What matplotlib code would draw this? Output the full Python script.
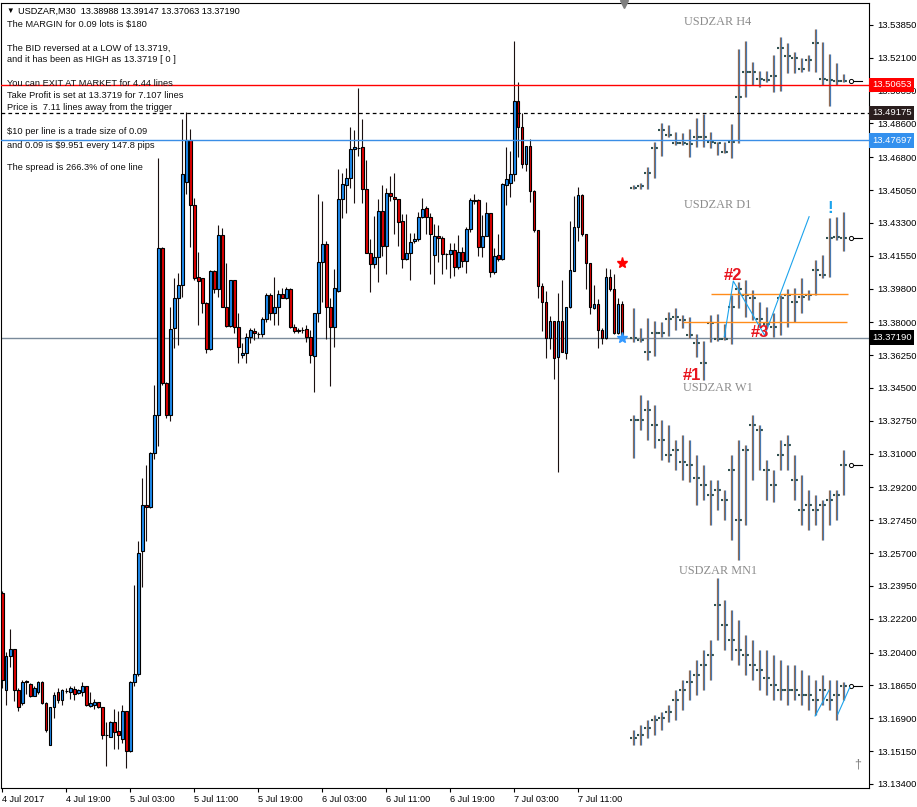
import numpy as np
import matplotlib.pyplot as plt
from matplotlib.patches import Rectangle
from matplotlib.transforms import blended_transform_factory

plt.rcParams['font.family'] = ['Liberation Sans', 'DejaVu Sans']

# USDZAR M30 candles
m30_open = [13.2355, 13.1839, 13.2019, 13.2057, 13.1839, 13.1772, 13.1886, 13.1873, 13.1810, 13.1828,
            13.1884, 13.1772, 13.1548, 13.1749, 13.1832, 13.1787, 13.1836, 13.1828, 13.1846, 13.1823,
            13.1832, 13.1861, 13.1756, 13.1760, 13.1776, 13.1749, 13.1600, 13.1592, 13.1671, 13.1622,
            13.1581, 13.1727, 13.1514, 13.1884, 13.1928, 13.2579, 13.2826, 13.2815, 13.3106, 13.3308,
            13.4194, 13.3474, 13.3306, 13.3768, 13.3928, 13.3999, 13.4549, 13.4772, 13.4425, 13.4039,
            13.4034, 13.3904, 13.3656, 13.4075, 13.3976, 13.4265, 13.3883, 13.3782, 13.4025, 13.3777,
            13.3625, 13.3638, 13.3720, 13.3753, 13.3736, 13.3736, 13.3816, 13.3945, 13.3851, 13.3880,
            13.3951, 13.3931, 13.3977, 13.3773, 13.3756, 13.3759, 13.3762, 13.3723, 13.3620, 13.3848,
            13.4119, 13.4215, 13.3880, 13.3773, 13.3968, 13.4455, 13.4532, 13.4567, 13.4722, 13.4727,
            13.4733, 13.4509, 13.4171, 13.4109, 13.4150, 13.4395, 13.4207, 13.4491, 13.4470, 13.4455,
            13.4342, 13.4135, 13.4167, 13.4231, 13.4242, 13.4359, 13.4407, 13.4359, 13.4157, 13.4262,
            13.4247, 13.4164, 13.4164, 13.4185, 13.4093, 13.4173, 13.4125, 13.4295, 13.4448, 13.4452,
            13.4203, 13.4262, 13.4381, 13.4070, 13.4157, 13.4139, 13.4530, 13.4544, 13.4589, 13.4979,
            13.4843, 13.4642, 13.4740, 13.4502, 13.4292, 13.3995, 13.3910, 13.3714, 13.3807, 13.3613,
            13.3807, 13.3638, 13.3880, 13.4075, 13.4310, 13.4478, 13.4269, 13.4114, 13.3874, 13.3897,
            13.3759, 13.3714, 13.4039, 13.3976, 13.3741, 13.38988]
m30_high = [13.2370, 13.2041, 13.2164, 13.2060, 13.1850, 13.1895, 13.1895, 13.1878, 13.1861, 13.1888,
            13.1886, 13.1775, 13.1752, 13.1828, 13.1850, 13.1846, 13.1850, 13.1861, 13.1861, 13.1843,
            13.1884, 13.1863, 13.1828, 13.1794, 13.1778, 13.1751, 13.1671, 13.1673, 13.1738, 13.1727,
            13.1760, 13.1729, 13.1886, 13.2400, 13.2635, 13.2972, 13.3039, 13.3108, 13.3465, 13.4676,
            13.4200, 13.3480, 13.3883, 13.4034, 13.4061, 13.4882, 13.4923, 13.4830, 13.4461, 13.4176,
            13.4036, 13.3906, 13.4077, 13.4078, 13.4318, 13.4301, 13.4114, 13.4027, 13.4027, 13.3848,
            13.3688, 13.3741, 13.3768, 13.3768, 13.3750, 13.3830, 13.3954, 13.3954, 13.4043, 13.3972,
            13.3981, 13.3986, 13.3981, 13.3791, 13.3768, 13.3775, 13.3785, 13.3759, 13.3850, 13.4484,
            13.4446, 13.4235, 13.3931, 13.4084, 13.4617, 13.4594, 13.4621, 13.4839, 13.4825, 13.5047,
            13.4882, 13.4665, 13.4242, 13.4366, 13.4455, 13.4532, 13.4514, 13.4580, 13.4594, 13.4457,
            13.4377, 13.4377, 13.4274, 13.4274, 13.4386, 13.4461, 13.4420, 13.4384, 13.4322, 13.4317,
            13.4260, 13.4171, 13.4221, 13.4221, 13.4265, 13.4199, 13.4310, 13.4461, 13.4484, 13.4455,
            13.4372, 13.4439, 13.4384, 13.4194, 13.4270, 13.4541, 13.4736, 13.4715, 13.5299, 13.5079,
            13.4914, 13.4742, 13.4775, 13.4504, 13.4294, 13.4008, 13.3967, 13.3835, 13.3809, 13.3954,
            13.4025, 13.3883, 13.4340, 13.4475, 13.4523, 13.4482, 13.4271, 13.4116, 13.3999, 13.3922,
            13.3768, 13.4091, 13.4082, 13.4057, 13.3931, 13.39147]
m30_low = [13.1850, 13.1760, 13.1962, 13.1783, 13.1727, 13.1760, 13.1817, 13.1801, 13.1806, 13.1820,
           13.1768, 13.1615, 13.1545, 13.1693, 13.1772, 13.1760, 13.1823, 13.1794, 13.1787, 13.1820,
           13.1806, 13.1757, 13.1749, 13.1738, 13.1745, 13.1581, 13.1435, 13.1590, 13.1525, 13.1525,
           13.1559, 13.1424, 13.1510, 13.1861, 13.1917, 13.2388, 13.2635, 13.2810, 13.3072, 13.3140,
           13.3465, 13.3290, 13.3275, 13.3661, 13.3679, 13.3936, 13.4482, 13.4203, 13.4025, 13.3785,
           13.3848, 13.3634, 13.3652, 13.3954, 13.3936, 13.3880, 13.3777, 13.3777, 13.3741, 13.3581,
           13.3608, 13.3581, 13.3691, 13.3705, 13.3714, 13.3723, 13.3803, 13.3812, 13.3785, 13.3785,
           13.3928, 13.3922, 13.3768, 13.3741, 13.3741, 13.3745, 13.3697, 13.3585, 13.3430, 13.3803,
           13.3910, 13.3709, 13.3460, 13.3670, 13.3963, 13.4358, 13.4381, 13.4517, 13.4434, 13.4688,
           13.4434, 13.4169, 13.3959, 13.4087, 13.4013, 13.4153, 13.4055, 13.4445, 13.4269, 13.4208,
           13.4087, 13.4132, 13.4025, 13.4221, 13.4235, 13.4354, 13.4271, 13.4055, 13.4002, 13.4119,
           13.4055, 13.4084, 13.4034, 13.4048, 13.4082, 13.4093, 13.4061, 13.4283, 13.4430, 13.4153,
           13.4150, 13.4260, 13.4043, 13.4055, 13.4128, 13.4132, 13.4425, 13.4470, 13.4555, 13.4679,
           13.4621, 13.4608, 13.4443, 13.4283, 13.3931, 13.3753, 13.3608, 13.3656, 13.3496, 13.3004,
           13.3640, 13.3602, 13.3878, 13.4073, 13.4233, 13.4260, 13.3976, 13.3844, 13.3869, 13.3661,
           13.3682, 13.3709, 13.3968, 13.3737, 13.3737, 13.37063]
m30_close = [13.1895, 13.2019, 13.2057, 13.1839, 13.1749, 13.1884, 13.1884, 13.1810, 13.1850, 13.1884,
             13.1772, 13.1626, 13.1749, 13.1812, 13.1787, 13.1839, 13.1834, 13.1850, 13.1817, 13.1839,
             13.1861, 13.1760, 13.1769, 13.1776, 13.1749, 13.1599, 13.1599, 13.1671, 13.1615, 13.1599,
             13.1727, 13.1514, 13.1884, 13.1928, 13.2568, 13.2826, 13.2815, 13.3106, 13.3308, 13.4194,
             13.3474, 13.3306, 13.3762, 13.3928, 13.3999, 13.4590, 13.4772, 13.4425, 13.4034, 13.4022,
             13.3904, 13.3656, 13.4075, 13.3976, 13.4265, 13.3883, 13.3782, 13.4025, 13.3777, 13.3670,
             13.3638, 13.3723, 13.3759, 13.3741, 13.3737, 13.3816, 13.3945, 13.3851, 13.3883, 13.3951,
             13.3931, 13.3977, 13.3773, 13.3755, 13.3755, 13.3758, 13.3723, 13.3625, 13.3848, 13.4119,
             13.4215, 13.3880, 13.3773, 13.3981, 13.4455, 13.4535, 13.4567, 13.4722, 13.4733, 13.4728,
             13.4509, 13.4171, 13.4109, 13.4150, 13.4395, 13.4207, 13.4487, 13.4475, 13.4455, 13.4336,
             13.4135, 13.4167, 13.4226, 13.4242, 13.4359, 13.4402, 13.4363, 13.4269, 13.4262, 13.4247,
             13.4164, 13.4163, 13.4185, 13.4093, 13.4173, 13.4125, 13.4295, 13.4452, 13.4449, 13.4203,
             13.4262, 13.4381, 13.4070, 13.4155, 13.4139, 13.4537, 13.4562, 13.4589, 13.4979, 13.4843,
             13.4642, 13.4740, 13.4502, 13.4292, 13.3995, 13.3910, 13.3714, 13.3807, 13.3608, 13.3807,
             13.3643, 13.3880, 13.4079, 13.4310, 13.4478, 13.4269, 13.4114, 13.3880, 13.3897, 13.3759,
             13.3714, 13.4039, 13.3976, 13.3741, 13.3896, 13.37190]

# higher timeframe bars drawn by the indicator (high, low, close)
h4_high = [13.4532, 13.4541, 13.4626, 13.4763, 13.4860, 13.4852, 13.4812, 13.4807, 13.4829, 13.4887, 13.4910,
           13.4812, 13.4763, 13.4763, 13.4855, 13.5255, 13.5299, 13.5189, 13.5141, 13.5141, 13.5225, 13.5319,
           13.5291, 13.5239, 13.5207, 13.5225, 13.5362, 13.5296, 13.5230, 13.5180, 13.5123]
h4_low = [13.4509, 13.4509, 13.4509, 13.4571, 13.4686, 13.4789, 13.4745, 13.4745, 13.4683, 13.4733, 13.4733,
          13.4727, 13.4692, 13.4701, 13.4674, 13.4757, 13.5003, 13.5065, 13.5056, 13.5083, 13.5029, 13.5035,
          13.5131, 13.5131, 13.5136, 13.5141, 13.5136, 13.5065, 13.4953, 13.5065, 13.5083]
h4_close = [13.4518, 13.4526, 13.4594, 13.4731, 13.4825, 13.4798, 13.4757, 13.4757, 13.4750, 13.4786, 13.4789,
            13.4763, 13.4757, 13.4709, 13.4763, 13.5003, 13.5136, 13.5136, 13.5097, 13.5091, 13.5113, 13.5264,
            13.5219, 13.5207, 13.5148, 13.5198, 13.5287, 13.5097, 13.5091, 13.5088, 13.5086]

d1_high = [13.3875, 13.3768, 13.3822, 13.3809, 13.3804, 13.3857, 13.3875, 13.3839, 13.3830, 13.3738, 13.3703,
           13.3839, 13.3845, 13.3791, 13.3946, 13.4017, 13.4026, 13.3973, 13.3910, 13.3884, 13.3848, 13.3946,
           13.3978, 13.3981, 13.4035, 13.3973, 13.4132, 13.4159, 13.4355, 13.4364, 13.4390]
d1_low = [13.3694, 13.3694, 13.3599, 13.3621, 13.3724, 13.3727, 13.3759, 13.3768, 13.3715, 13.3617, 13.3493,
          13.3697, 13.3703, 13.3706, 13.3685, 13.3875, 13.3830, 13.3813, 13.3777, 13.3768, 13.3724, 13.3733,
          13.3777, 13.3804, 13.3848, 13.3919, 13.3946, 13.4035, 13.4044, 13.4239, 13.4182]
d1_close = [13.3715, 13.3706, 13.3644, 13.3741, 13.3741, 13.3816, 13.3827, 13.3813, 13.3733, 13.3688, 13.3582,
            13.3795, 13.3710, 13.3710, 13.3884, 13.3976, 13.3946, 13.3928, 13.3816, 13.3791, 13.3777, 13.3928,
            13.3946, 13.3910, 13.3937, 13.3946, 13.4079, 13.4053, 13.4248, 13.4253, 13.4248]

w1_high = [13.3306, 13.3413, 13.3386, 13.3359, 13.3279, 13.3253, 13.3173, 13.3199, 13.3173, 13.3093, 13.3040,
           13.2960, 13.2960, 13.2906, 13.3093, 13.3173, 13.3146, 13.3306, 13.3253, 13.3066, 13.3013, 13.3173,
           13.3199, 13.3093, 13.2986, 13.2906, 13.2880, 13.2853, 13.2906, 13.2906, 13.3120]
w1_low = [13.3077, 13.3226, 13.3173, 13.3130, 13.3066, 13.3056, 13.3013, 13.2960, 13.2949, 13.2826, 13.2853,
          13.2720, 13.2800, 13.2746, 13.2640, 13.2533, 13.2720, 13.2960, 13.3013, 13.2853, 13.2842, 13.3013,
          13.3013, 13.2853, 13.2720, 13.2693, 13.2720, 13.2640, 13.2720, 13.2746, 13.2880]
w1_close = [13.3279, 13.3279, 13.3333, 13.3253, 13.3173, 13.3093, 13.3120, 13.3056, 13.3040, 13.2970, 13.2933,
            13.2880, 13.2906, 13.2853, 13.3013, 13.2746, 13.3120, 13.3253, 13.3226, 13.3013, 13.2933, 13.3093,
            13.3146, 13.2960, 13.2800, 13.2826, 13.2800, 13.2826, 13.2853, 13.2880, 13.3040]

mn1_high = [13.1627, 13.1654, 13.1680, 13.1707, 13.1723, 13.1760, 13.1840, 13.1894, 13.1947, 13.2000, 13.2053,
            13.2107, 13.2437, 13.2320, 13.2267, 13.2213, 13.2133, 13.2107, 13.2053, 13.2053, 13.2027, 13.2000,
            13.1974, 13.1974, 13.1947, 13.1920, 13.1894, 13.1920, 13.1894, 13.1894, 13.1883]
mn1_low = [13.1547, 13.1547, 13.1584, 13.1600, 13.1627, 13.1670, 13.1680, 13.1734, 13.1787, 13.1814, 13.1840,
           13.1894, 13.2107, 13.2053, 13.2000, 13.1974, 13.1920, 13.1894, 13.1840, 13.1814, 13.1787, 13.1787,
           13.1760, 13.1787, 13.1760, 13.1734, 13.1707, 13.1760, 13.1734, 13.1680, 13.1787]
mn1_close = [13.1584, 13.1600, 13.1638, 13.1680, 13.1691, 13.1723, 13.1787, 13.1840, 13.1883, 13.1920, 13.1974,
             13.2027, 13.2293, 13.2187, 13.2107, 13.2053, 13.2027, 13.1974, 13.1947, 13.1904, 13.1867, 13.1840,
             13.1840, 13.1840, 13.1814, 13.1814, 13.1787, 13.1840, 13.1787, 13.1814, 13.1862]

panel_titles = ['USDZAR H4', 'USDZAR D1', 'USDZAR W1', 'USDZAR MN1']
panel_title_price = [13.5401, 13.4425, 13.3450, 13.2475]

# levels
tp_level = 13.50653
trigger_level = 13.49175
entry_level = 13.47697
bid_level = 13.37190
orange_levels = [13.3949, 13.3800]

# pattern lines (D1 zigzag and the small one on MN1)
zigzag_x = [180.5, 182.75, 190.6, 201.7]
zigzag_y = [13.3723, 13.4020, 13.3730, 13.4363]
mn1_zz_x = [[203.2, 206.7], [208.9, 211.9]]
mn1_zz_y = [[13.1702, 13.1840], [13.1712, 13.1856]]

ytick_labels = ['13.53850', '13.52100', '13.50350', '13.48600', '13.46800', '13.45050', '13.43300', '13.41550',
                '13.39800', '13.38000', '13.36250', '13.34500', '13.32750', '13.31000', '13.29200', '13.27450',
                '13.25700', '13.23950', '13.22200', '13.20400', '13.18650', '13.16900', '13.15150', '13.13400']
xtick_pos = [0, 16, 32, 48, 64, 80, 96, 112, 128, 144]
xtick_labels = ['4 Jul 2017', '4 Jul 19:00', '5 Jul 03:00', '5 Jul 11:00', '5 Jul 19:00',
                '6 Jul 03:00', '6 Jul 11:00', '6 Jul 19:00', '7 Jul 03:00', '7 Jul 11:00']

info_lines = [
    (24, 'The MARGIN for 0.09 lots is $180'),
    (48, 'The BID reversed at a LOW of 13.3719,'),
    (60, 'and it has been as HIGH as 13.3719 [ 0 ]'),
    (84, 'You can EXIT AT MARKET for 4.44 lines'),
    (96, 'Take Profit is set at 13.3719 for 7.107 lines'),
    (108, 'Price is  7.11 lines away from the trigger'),
    (132, '$10 per line is a trade size of 0.09'),
    (145, 'and 0.09 is $9.951 every 147.8 pips'),
    (168, 'The spread is 266.3% of one line'),
]

W, H = 917, 807
fig = plt.figure(figsize=(W / 100, H / 100), dpi=100)
ax = fig.add_axes([1 / W, 19 / H, 868 / W, 785 / H])
ax.set_xlim(-0.325, 216.675)
ax.set_ylim(13.1318, 13.5502)

# candles
for i in range(len(m30_open)):
    o, hi, lo, c = m30_open[i], m30_high[i], m30_low[i], m30_close[i]
    col = '#1e8cf0' if c >= o else '#e00000'
    ax.vlines(i, lo, hi, color='#1a1010', lw=0.8, zorder=2)
    ax.add_patch(Rectangle((i - 0.3, min(o, c)), 0.6, max(abs(c - o), 0.0003),
                           fc=col, ec='black', lw=0.8, zorder=3))

# higher timeframe panels
ov_x = 157.75 + 1.75 * np.arange(31)
for hi, lo, cl in [(h4_high, h4_low, h4_close), (d1_high, d1_low, d1_close),
                   (w1_high, w1_low, w1_close), (mn1_high, mn1_low, mn1_close)]:
    ax.vlines(ov_x - 0.13, lo, hi, color='#9a6a48', lw=0.9, zorder=2)
    ax.vlines(ov_x + 0.13, lo, hi, color='#4878b0', lw=0.9, zorder=2)
    ax.hlines(cl, ov_x - 0.85, ov_x + 0.85, color='#2f4f4f', lw=1.5,
              linestyles=[(0, (1, 1.3))], zorder=3)
    ax.plot([ov_x[-1] + 2, ov_x[-1] + 4.7], [cl[-1], cl[-1]], color='black', lw=0.8)
    ax.plot(ov_x[-1] + 2, cl[-1], 'o', ms=3, mfc='white', mec='black', mew=0.7)

for t, p in zip(panel_titles, panel_title_price):
    ax.text(178.9, p, t, ha='center', va='center', fontsize=8.8, color='#8c8c8c',
            family='Liberation Serif')

# levels
ax.axhline(tp_level, color='#ff0000', lw=1, zorder=4)
ax.axhline(trigger_level, color='black', lw=0.9, ls=(0, (3, 2.5)), zorder=4)
ax.axhline(entry_level, color='#3a8ee6', lw=1, zorder=4)
ax.axhline(bid_level, color='#7a8a9a', lw=1, zorder=1)
ax.hlines(orange_levels[0], 177.2, 211.4, color='#ff8c1a', lw=1, zorder=4)
ax.hlines(orange_levels[1], 170.2, 211.1, color='#ff8c1a', lw=1, zorder=4)
ax.plot(zigzag_x, zigzag_y, color='#1ca3ec', lw=0.8, zorder=4)
for zx, zy in zip(mn1_zz_x, mn1_zz_y):
    ax.plot(zx, zy, color='#1ca3ec', lw=0.8, zorder=4)

for lab, xx, yy in [('#1', 172.4, 13.3514), ('#2', 182.7, 13.4052), ('#3', 189.4, 13.3748)]:
    ax.text(xx, yy, lab, color='#e8141e', fontsize=12, fontweight='bold', ha='center', va='center', zorder=5)
ax.text(206.9, 13.4409, '!', color='#1ca3ec', fontsize=12, fontweight='bold', ha='center', va='center')

# signal stars
ax.plot(155, 13.4114, '*', color='#ff0000', ms=8, zorder=5)
ax.plot(155, 13.3714, '*', color='#3399ff', ms=8, zorder=5)
ax.plot(155.4, 13.5497, 'v', color='#808080', ms=6, clip_on=False, zorder=5)
ax.text(213.8, 13.1445, '\u2020', color='#808080', fontsize=9, ha='center', va='center')

# axes styling
for s in ax.spines.values():
    s.set_color('black')
    s.set_linewidth(0.8)
ax.yaxis.tick_right()
ax.set_yticks([float(v) for v in ytick_labels])
ax.set_yticklabels(ytick_labels)
ax.set_xticks(xtick_pos)
ax.set_xticklabels(xtick_labels)
ax.tick_params(axis='y', length=3, width=0.8, pad=3, labelsize=6.8, colors='black')
ax.tick_params(axis='x', length=3, width=0.8, pad=2, labelsize=6.6, colors='black')
for lab in ax.get_xticklabels():
    lab.set_ha('left')

# highlighted prices on the right scale
tr = blended_transform_factory(ax.transAxes, ax.transData)
for val, fc in [(tp_level, '#ff0000'), (trigger_level, '#2a1e1e'), (entry_level, '#3390ee'),
                (bid_level, '#000000')]:
    ax.text(1.0035, val, '%.5f' % val, transform=tr, ha='left', va='center', color='white',
            fontsize=6.8, clip_on=False, zorder=10,
            bbox=dict(boxstyle='square,pad=0.28', fc=fc, ec='none'))

# info text
fig.text(6 / W, 1 - 11.5 / H, '\u25bc', fontsize=5.5, va='center', ha='left', color='black')
fig.text(18 / W, 1 - 11.5 / H, 'USDZAR,M30  13.38988 13.39147 13.37063 13.37190', fontsize=6.6,
         va='center', ha='left', color='black')
for yy, t in info_lines:
    fig.text(7 / W, 1 - yy / H, t, fontsize=6.7, va='center', ha='left', color='#111111')

fig.savefig('out.png', dpi=100)
